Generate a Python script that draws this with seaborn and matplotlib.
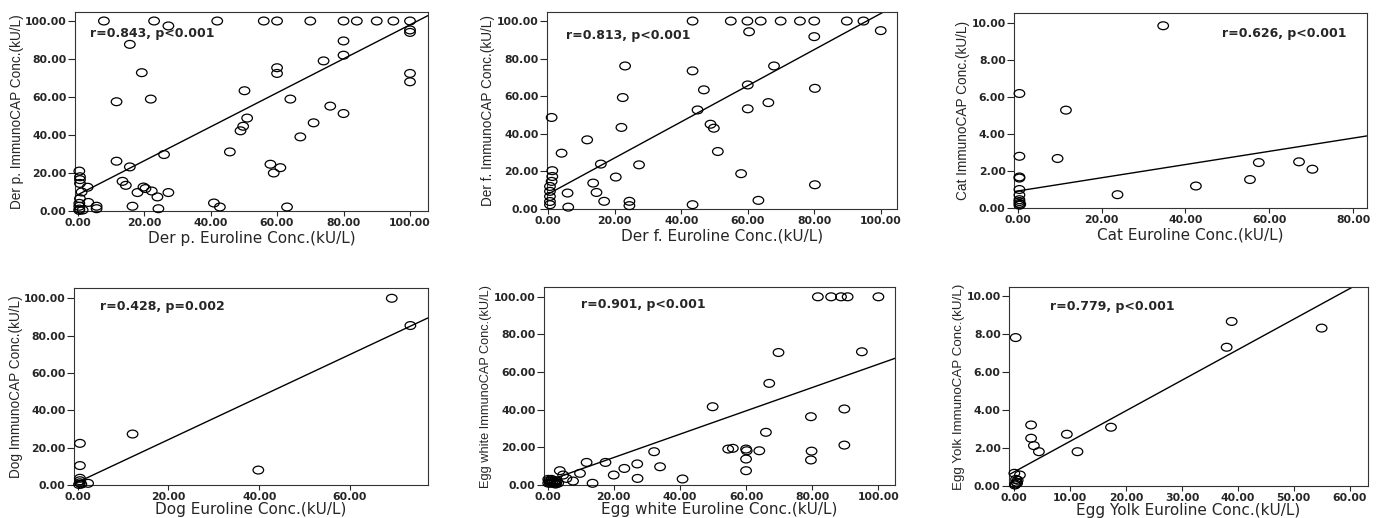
import matplotlib
matplotlib.use("Agg")
import matplotlib.pyplot as plt
from matplotlib.path import Path
from matplotlib.transforms import Affine2D
from matplotlib.ticker import FormatStrFormatter, MultipleLocator
import seaborn as sns

# Der p.
derp_euroline = [0.5, 0.7, 0.7, 0.7, 1.2, 3, 0.7, 0.5, 0.5, 0.5, 0.5, 1.5, 3.2, 5.7, 5.7,
                 7.9, 23, 27.3, 42, 15.7, 19.3, 11.7, 22, 56, 60, 70, 80, 84, 90, 95, 100,
                 100, 100, 100, 100, 80, 80, 74, 60, 60, 50.2, 64, 76, 80, 51, 49.8, 49,
                 71, 67, 45.8, 26, 11.7, 15.7, 58, 61, 59, 13.5, 14.5, 19.8, 20.4, 22.3,
                 18, 27.3, 24, 16.5, 24.3, 41, 42.8, 63]
derp_immunocap = [21, 18, 16.5, 14.5, 10, 12.5, 6.5, 4, 2.5, 1, 0.3, 0.5, 4.5, 2.5, 1.2,
                  100, 100, 97.4, 100, 87.7, 72.8, 57.5, 58.9, 100, 100, 100, 100, 100, 100, 100, 100,
                  95.3, 94, 72.4, 68, 89.5, 82, 79, 75.4, 72.4, 63.3, 58.9, 55.2, 51.3, 48.9, 44.6, 42.2,
                  46.4, 39, 31.1, 29.7, 26.2, 23.2, 24.6, 22.8, 20, 15.6, 13.5, 12.6, 11.8, 10.5,
                  9.7, 9.7, 7.4, 2.5, 1.2, 4.2, 2.1, 2.1]

# Der f.
derf_euroline = [43.4, 54.9, 59.9, 63.9, 69.9, 75.7, 80, 89.8, 94.8, 100, 60.4, 80, 23.1,
                 43.4, 67.9, 46.8, 60, 80.2, 22.4, 44.9, 60, 66.2, 1, 22, 48.8, 49.8, 11.7,
                 4, 51, 15.8, 27.3, 58, 80.2, 20.3, 13.5, 14.5, 5.8, 16.8, 24.4, 24.4, 43.4,
                 63.2, 6, 1.2, 1.2, 1, 0.5, 0.5, 0.5, 0.5, 0.5]
derf_immunocap = [100, 100, 100, 100, 100, 100, 100, 100, 100, 94.9, 94.3, 91.7, 76.1,
                  73.5, 76.1, 63.4, 66, 64.2, 59.3, 52.7, 53.3, 56.6, 48.7, 43.4, 45.1, 43, 36.8,
                  29.7, 30.6, 23.9, 23.5, 18.8, 12.9, 17, 13.8, 8.8, 8.5, 4.1, 4.1, 1.8, 2.3,
                  4.6, 1, 20.4, 17.3, 14.7, 12, 9.4, 6.7, 4, 2.3]

# Cat
cat_euroline = [34.7, 0.4, 11.5, 0.4, 9.5, 0.4, 0.4, 0.4, 0.4, 0.4, 0.4, 0.4, 0.4, 0.6,
                23.8, 42.5, 57.5, 55.4, 67.1, 70.3]
cat_immunocap = [9.87, 6.2, 5.3, 2.8, 2.68, 1.68, 1.62, 1.0, 0.7, 0.45, 0.35, 0.25, 0.15, 0.2,
                 0.72, 1.19, 2.46, 1.54, 2.5, 2.1]

# Dog
dog_euroline = [69.2, 73.3, 12.1, 0.5, 0.5, 39.8, 0.5, 0.5, 0.5, 2.3, 0.3, 0.8]
dog_immunocap = [100, 85.4, 27.3, 22.3, 10.4, 8, 3.6, 2.3, 1.2, 0.9, 0.3, 0.5]

# Egg white
eggw_euroline = [81.7, 85.7, 88.7, 90.7, 100, 69.8, 95, 67, 49.9, 89.7, 79.6, 66, 54.6, 56,
                 60, 60.2, 64, 60, 60, 79.8, 79.6, 89.7, 32.2, 11.8, 17.5, 27.1, 23.2, 34,
                 20, 27.2, 40.8, 13.6, 9.8, 7.7, 3.7, 4.7, 5.7,
                 0.2, 0.8, 1.4, 2.0, 2.6, 3.2, 0.4, 1.0, 1.6, 2.2, 2.8, 0.2, 1.2, 2.4]
eggw_immunocap = [100, 100, 100, 100, 100, 70.4, 70.8, 54, 41.6, 40.4, 36.3, 28, 19.1, 19.5,
                  19.1, 18.2, 18.2, 13.8, 7.6, 18, 13.3, 21.2, 17.7, 12, 12, 11.2, 8.8, 9.7,
                  5.3, 3.5, 3.2, 0.9, 6.2, 2.1, 7.6, 5.3, 3.5,
                  1.0, 1.0, 1.0, 1.0, 1.0, 1.0, 2.2, 2.2, 2.2, 2.2, 2.2, 3.0, 3.0, 0.5]

# Egg yolk
eggy_euroline = [0.24, 38.9, 38, 55, 3, 3, 3.5, 4.4, 9.4, 11.3, 17.3, 0, 1,
                 0.2, 0.4, 0.6, 0.3, 0.5, 0.1]
eggy_immunocap = [7.83, 8.68, 7.32, 8.33, 3.22, 2.52, 2.13, 1.81, 2.73, 1.81, 3.1, 0.67, 0.58,
                  0.1, 0.2, 0.3, 0.35, 0.15, 0.05]

# regression lines: (intercept, slope)
fits = [(8.5, 0.895), (8.0, 0.96), (0.92, 0.0358), (1.5, 1.14), (2.2, 0.62), (0.75, 0.161)]
stats = ["r=0.843, p<0.001", "r=0.813, p<0.001", "r=0.626, p<0.001",
         "r=0.428, p=0.002", "r=0.901, p<0.001", "r=0.779, p<0.001"]
names = ["Der p.", "Der f.", "Cat", "Dog", "Egg white", "Egg Yolk"]

panels = [
    (derp_euroline, derp_immunocap), (derf_euroline, derf_immunocap),
    (cat_euroline, cat_immunocap), (dog_euroline, dog_immunocap),
    (eggw_euroline, eggw_immunocap), (eggy_euroline, eggy_immunocap),
]

# layout (figure fractions), limits, tick steps, text position
rects = [
    [0.0545, 0.5927, 0.2565, 0.3840], [0.3975, 0.5965, 0.2544, 0.3803],
    [0.7369, 0.5985, 0.2565, 0.3764], [0.0538, 0.0637, 0.2573, 0.3803],
    [0.3953, 0.0637, 0.2551, 0.3822], [0.7333, 0.0618, 0.2609, 0.3842],
]
xlims = [(-0.8, 105.4), (-0.4, 104.9), (-0.9, 83.3), (-0.8, 77.2), (-1.1, 105.0), (-0.95, 63.3)]
ylims = [(0, 104.7), (0, 104.8), (0, 10.56), (0, 105.5), (0, 105.2), (0, 10.5)]
xsteps = [20, 20, 20, 20, 20, 10]
ysteps = [20, 20, 2, 20, 20, 2]
text_pos = [(0.042, 0.89), (0.054, 0.883), (0.59, 0.896), (0.073, 0.905), (0.107, 0.914), (0.114, 0.90)]
ylabel_sizes = [9.8, 9.8, 9.8, 9.8, 9.2, 9.6]
xlabel_pads = [2, 2, 2, 0, 0, 0]

sns.set_style("white")
plt.rcParams["font.family"] = ["DejaVu Sans"]

ellipse = Path.unit_circle().transformed(Affine2D().scale(1.35, 1.0))

fig = plt.figure(figsize=(13.76, 5.18), dpi=100)

for i, (x, y) in enumerate(panels):
    ax = fig.add_axes(rects[i])
    sns.scatterplot(x=x, y=y, ax=ax, marker=ellipse, s=58, color="black",
                    facecolor="none", edgecolor="black", linewidth=0.9, clip_on=False, zorder=3)
    b0, b1 = fits[i]
    ax.axline((0, b0), slope=b1, color="black", linewidth=1.0, zorder=2)

    ax.set_xlim(*xlims[i])
    ax.set_ylim(*ylims[i])
    ax.xaxis.set_major_locator(MultipleLocator(xsteps[i]))
    ax.yaxis.set_major_locator(MultipleLocator(ysteps[i]))
    ax.xaxis.set_major_formatter(FormatStrFormatter("%.2f"))
    ax.yaxis.set_major_formatter(FormatStrFormatter("%.2f"))
    ax.tick_params(axis="both", direction="out", width=0.8, labelsize=7.8,
                   left=True, bottom=True)
    ax.tick_params(axis="x", length=3.5, pad=1.5)
    ax.tick_params(axis="y", length=5, pad=1)
    for lab in ax.get_xticklabels() + ax.get_yticklabels():
        lab.set_fontweight("bold")
    for sp in ax.spines.values():
        sp.set_color("#333333")
        sp.set_linewidth(0.8)

    ax.set_xlabel(f"{names[i]} Euroline Conc.(kU/L)", fontsize=11, labelpad=xlabel_pads[i])
    ax.set_ylabel(f"{names[i]} ImmunoCAP Conc.(kU/L)", fontsize=ylabel_sizes[i], labelpad=1,
                  family=["Liberation Sans", "DejaVu Sans"])
    tx, ty = text_pos[i]
    ax.text(tx, ty, stats[i], transform=ax.transAxes, fontsize=9, fontweight="bold",
            ha="left", va="center")

fig.savefig("out.png", dpi=100)
plt.close(fig)
